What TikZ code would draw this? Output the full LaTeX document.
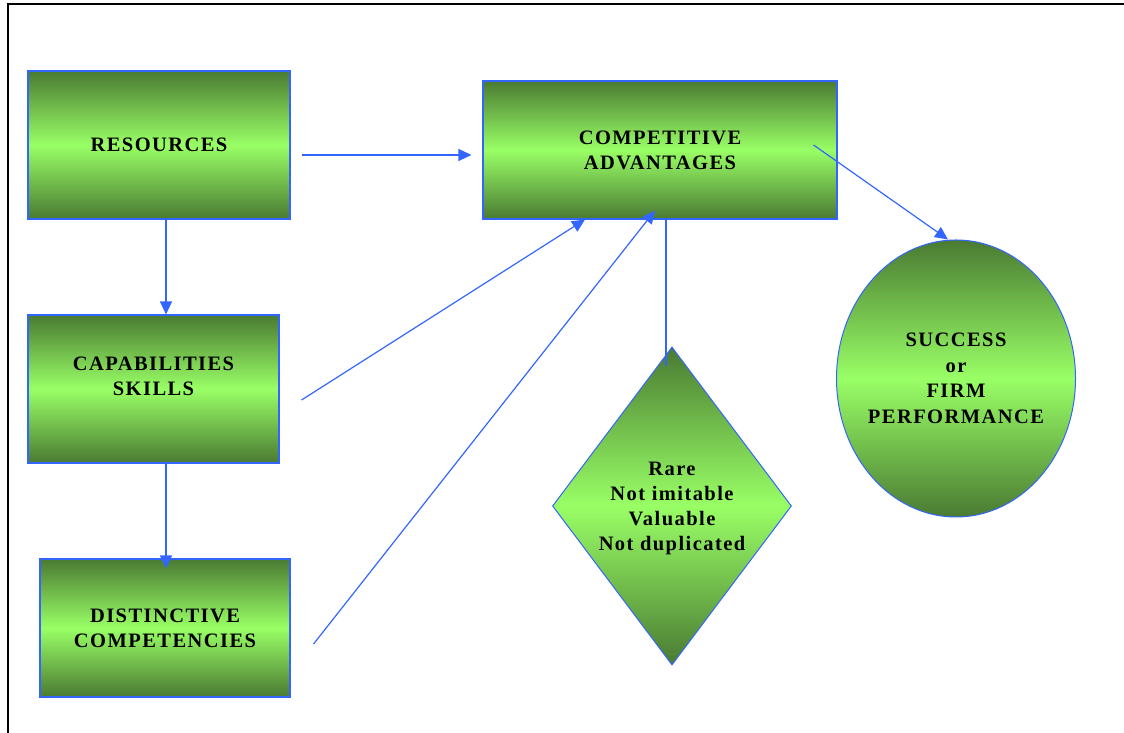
\documentclass[tikz,border=0pt]{standalone}
\usepackage{fontspec}
\setmainfont{Liberation Serif}
\newfontfamily\labelfont[LetterSpace=7]{Liberation Serif}
\usepackage{xcolor}
\usepackage{tikz}
\usetikzlibrary{shapes,arrows.meta,positioning,calc}

\definecolor{linkblue}{RGB}{51,102,255}
\definecolor{darkgreen}{RGB}{74,122,50}
\definecolor{lightgreen}{RGB}{153,255,102}

\begin{document}
\begin{tikzpicture}[
    x=1pt, y=1pt,
    greenfill/.style={top color=darkgreen, bottom color=darkgreen, middle color=lightgreen},
    box/.style={rectangle, draw=linkblue, line width=1.1pt, greenfill, align=center, inner sep=0pt,
        font=\labelfont\bfseries\fontsize{20.5}{25}\selectfont},
    criteria/.style={diamond, draw=linkblue, line width=1pt, greenfill, align=center, inner sep=0pt,
        shape aspect=0.75, minimum width=239pt, minimum height=318pt,
        font=\labelfont\bfseries\fontsize{20.5}{25}\selectfont},
    outcome/.style={ellipse, draw=linkblue, line width=1pt, greenfill, align=center,
        inner xsep=-4pt, inner ysep=0pt, minimum width=239pt, minimum height=277pt,
        font=\labelfont\bfseries\fontsize{20.5}{25.5}\selectfont},
    arrow/.style={-{Triangle[length=13pt,width=12pt]}, draw=linkblue, line width=1.2pt},
    link/.style={draw=linkblue, line width=1.2pt}
]
    \useasboundingbox (0,0) rectangle (1124,733);
    % page frame
    \draw[line width=2pt] (8,0) -- (8,729) -- (1124,729);

    \node[box, minimum width=262pt, minimum height=148pt] (resources) at (159,588) {RESOURCES};
    \node[box, minimum width=251pt, minimum height=148pt] (capabilities) at (153.5,344) {CAPABILITIES\\SKILLS\\~};
    \node[box, minimum width=250pt, minimum height=138pt] (distinct) at (165,105) {DISTINCTIVE\\COMPETENCIES};
    \node[box, minimum width=354pt, minimum height=138pt] (advantage) at (660,583) {COMPETITIVE\\ADVANTAGES};
    \node[criteria] (vrin) at (672,227) {\\[-6pt]Rare\\Not imitable\\Valuable\\Not duplicated};
    \node[outcome] (success) at (956,354.5) {SUCCESS\\or\\FIRM\\PERFORMANCE};

    \draw[arrow] ($(resources.east)+(11,-10)$) -- ($(advantage.west)+(-11,-5)$);
    \draw[arrow] ([xshift=7pt]resources.south) -- ([xshift=7pt]resources.south |- capabilities.north);
    \draw[arrow] ([xshift=12.5pt]capabilities.south) -- ($([xshift=12.5pt]capabilities.south |- distinct.north)+(0,-10)$);
    \draw[arrow] ($(capabilities.east)+(22,-11)$) -- ([xshift=-75pt]advantage.south);
    \draw[arrow] ($(distinct.east)+(23,-16)$) -- ($(advantage.south)+(-5,9)$);
    \draw[link] ([xshift=6pt]advantage.south) -- ($([xshift=6pt]advantage.south |- vrin.north)+(0,-20)$);
    \draw[arrow] ($(advantage.east)+(-24,5)$) -- ([xshift=-8pt]success.north);
\end{tikzpicture}
\end{document}
